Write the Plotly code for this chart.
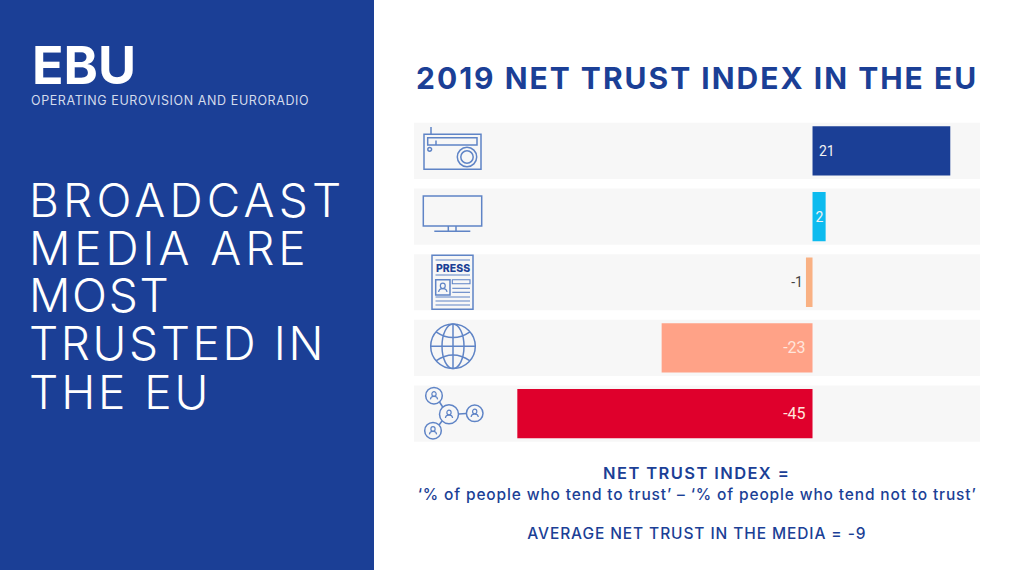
import json
import plotly.graph_objects as go

categories = ["Radio", "TV", "Press", "Internet", "Social networks"]
values = [21, 2, -1, -23, -45]
value_labels = ["\u00a021", "2", "-1", "-23\u00a0", "-45\u00a0"]
bar_colors = ["#1B3F96", "#0DBBEF", "#F9B183", "#FFA287", "#DF002C"]
label_colors = ["#F2F2F2", "#F2F2F2", "#444444", "#FFE6DC", "#FFE6DC"]
label_positions = ["inside", "inside", "outside", "inside", "inside"]
label_sizes = [14, 14, 14, 16, 16]

W, H = 1024, 570
NAVY = "#1B3F96"
ICON = "#5F84C6"
SANS = "Inter"
LW = 1.5


def X(p):
    return p / W


def Y(p):
    return 1 - p / H


shapes = []


def rect(x0, y0, x1, y1, fill=None, line=ICON, width=LW, layer="above"):
    s = dict(type="rect", xref="paper", yref="paper", x0=X(x0), x1=X(x1), y0=Y(y0), y1=Y(y1), layer=layer)
    s["fillcolor"] = fill if fill else "rgba(0,0,0,0)"
    s["line"] = dict(color=line, width=width) if line else dict(width=0)
    shapes.append(s)


def seg(x0, y0, x1, y1, width=LW):
    shapes.append(dict(type="line", xref="paper", yref="paper", x0=X(x0), x1=X(x1), y0=Y(y0), y1=Y(y1),
                       line=dict(color=ICON, width=width), layer="above"))


def circ(cx, cy, rx, ry=None, width=LW, fill=None):
    ry = rx if ry is None else ry
    shapes.append(dict(type="circle", xref="paper", yref="paper", x0=X(cx - rx), x1=X(cx + rx),
                       y0=Y(cy + ry), y1=Y(cy - ry), fillcolor=fill or "rgba(0,0,0,0)",
                       line=dict(color=ICON, width=width), layer="above"))


def quad(x0, y0, cx, cy, x1, y1, width=LW):
    shapes.append(dict(type="path", xref="paper", yref="paper",
                       path=f"M {X(x0)} {Y(y0)} Q {X(cx)} {Y(cy)} {X(x1)} {Y(y1)}",
                       line=dict(color=ICON, width=width), layer="above"))


def person(cx, cy, s=1.0):
    circ(cx, cy - 1.6 * s, 2.6 * s, 2.9 * s, width=1.2)
    quad(cx - 4.4 * s, cy + 5 * s, cx - 4 * s, cy + 1.2 * s, cx, cy + 1.4 * s, width=1.2)
    quad(cx, cy + 1.4 * s, cx + 4 * s, cy + 1.2 * s, cx + 4.4 * s, cy + 5 * s, width=1.2)


# Left panel
rect(0, 0, 374, 570, fill=NAVY, line=None, layer="below")

# Row bands behind the bars, in data coordinates
for i in range(len(categories)):
    shapes.append(dict(type="rect", xref="x domain", yref="y", x0=0, x1=1, y0=i - 0.428, y1=i + 0.428,
                       fillcolor="#F7F7F7", line=dict(width=0), layer="below"))

# Radio icon
rect(424, 134.3, 481, 169.3)
rect(427.7, 137.7, 477, 145)
seg(431, 127, 431, 134.3)
seg(436, 140.5, 436, 145)
circ(429.7, 149.3, 1.9)
circ(467, 157, 9.7)
circ(467, 157, 6.2)

# TV icon
rect(423.3, 196, 481.7, 226)
seg(448.3, 226, 448.3, 231.3)
seg(456, 226, 456, 231.3)
seg(434.3, 231.3, 470.3, 231.3)

# Press icon
rect(432, 255.3, 473, 309.3)
seg(435.5, 260, 470, 260, width=1.1)
seg(435.5, 275, 470, 275, width=1.1)
rect(435.7, 279.7, 450, 295)
person(442.8, 287.3, 0.95)
rect(452.3, 279.7, 470, 283.7, width=1.1)
for yy in (288.3, 292.3):
    seg(452.3, yy, 470, yy, width=1.1)
for yy in (297, 301, 305):
    seg(435.5, yy, 470, yy, width=1.1)

# Globe icon
gx, gy, gr = 453, 346.3, 22.3
circ(gx, gy, gr)
circ(gx, gy, 11, gr)
seg(gx, gy - gr, gx, gy + gr)
seg(gx - gr, gy, gx + gr, gy)
quad(gx - 17, gy - 14.5, gx, gy - 3, gx + 17, gy - 14.5)
quad(gx - 17, gy + 14.5, gx, gy + 3, gx + 17, gy + 14.5)

# Network icon
seg(439.5, 402, 443, 407.5)
seg(458.5, 414, 466.4, 413.6)
seg(442, 421, 439, 425)
for cx, cy, r in ((434, 395.7, 8.3), (449, 414.3, 9.5), (474.7, 413.3, 8.3), (433, 430.7, 8.3)):
    circ(cx, cy, r)
    person(cx, cy - 0.4, 0.82)


def note(text, x, y, size, color, family=SANS, weight=400, anchor="center"):
    return dict(text=text, x=X(x), y=Y(y), xref="paper", yref="paper", xanchor=anchor, yanchor="middle",
                showarrow=False, align="left" if anchor == "left" else "center",
                font=dict(family=family, size=size, color=color, weight=weight))


TITLE = "2019 NET TRUST INDEX IN THE EU"
TAG = "OPERATING EUROVISION AND EURORADIO"
HEAD = "NET TRUST INDEX ="
SENT = "‘% of people who tend to trust’ – ‘% of people who tend not to trust’"
AVG = "AVERAGE NET TRUST IN THE MEDIA = -9"
headline = ["BROADCAST", "MEDIA ARE", "MOST", "TRUSTED IN", "THE EU"]
headline_tracking = [4.2, 3.9, 1.7, 2.6, 2.9]

annotations = [
    note("EBU", 29.5, 65.5, 52, "#FFFFFF", weight=700, anchor="left"),
    note(TAG, 29, 100, 12.5, "#D3DBEC", anchor="left"),
    note(TITLE, 696.5, 78, 30, NAVY, weight=700),
    note(HEAD, 696.5, 473, 16.5, NAVY, weight=600),
    note(SENT, 696.5, 494, 15.5, NAVY, weight=500),
    note(AVG, 696.5, 533, 15.5, NAVY, weight=500),
    note("PRESS", 452.7, 268.3, 10.5, NAVY, weight=800),
]
for line, yy in zip(headline, [200, 248, 295, 343, 392]):
    annotations.append(note(line, 26.5, yy, 46, "#FFFFFF", weight=300, anchor="left"))

# Extra tracking to match the wide geometric typeface of the original
spacing = {TITLE: 2, TAG: 0.6, HEAD: 1.4, SENT: 0.85, AVG: 0.9}
spacing.update(dict(zip(headline, headline_tracking)))

fig = go.Figure(go.Bar(
    y=list(range(len(categories))), x=values, orientation="h", width=0.75,
    customdata=categories,
    marker=dict(color=bar_colors, line=dict(width=0)),
    text=value_labels, textposition=label_positions,
    insidetextanchor="start", textangle=0, constraintext="none", cliponaxis=False,
    textfont=dict(family="Roboto", size=label_sizes, color=label_colors),
    hoverinfo="skip",
))

fig.update_layout(
    width=W, height=H, margin=dict(l=0, r=0, t=0, b=0), showlegend=False,
    paper_bgcolor="#FFFFFF", plot_bgcolor="rgba(0,0,0,0)",
    shapes=shapes, annotations=annotations,
    xaxis=dict(domain=[414 / W, 980 / W], range=[-60.75, 25.53], visible=False, fixedrange=True),
    yaxis=dict(domain=[1 - 446.5 / H, 1 - 118 / H], range=[4.5, -0.5], visible=False, fixedrange=True),
)

post = """
document.body.style.margin='0';
document.documentElement.style.overflow='hidden';
var sp = %s;
document.querySelectorAll('text.annotation-text').forEach(function(t){
  var s = sp[t.textContent];
  if (s) { t.style.letterSpacing = s + 'px'; }
});
""" % json.dumps(spacing, ensure_ascii=False)

fig.write_html("out.html", config=dict(displayModeBar=False), post_script=post)
